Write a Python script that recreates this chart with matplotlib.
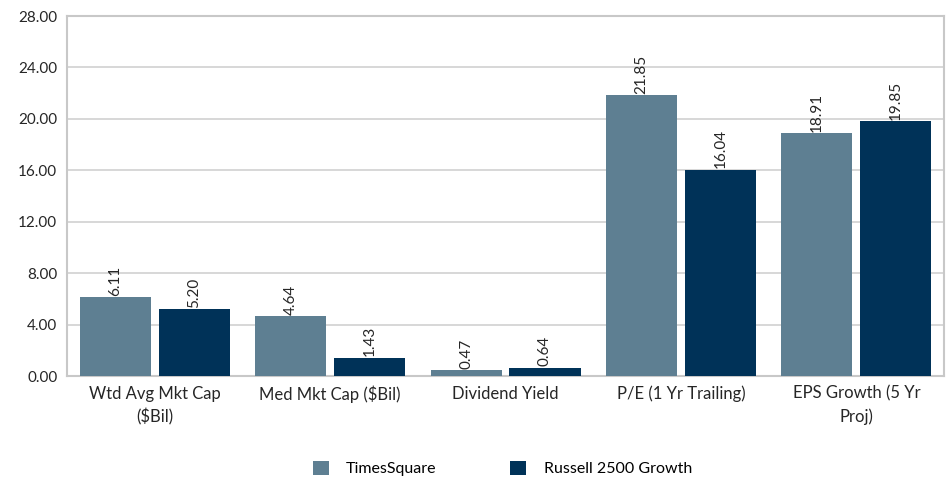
import matplotlib.pyplot as plt
import numpy as np

plt.rcParams['font.family'] = ['Lato', 'DejaVu Sans']

categories = ['Wtd Avg Mkt Cap\n($Bil)', 'Med Mkt Cap ($Bil)', 'Dividend Yield',
              'P/E (1 Yr Trailing)', 'EPS Growth (5 Yr\nProj)']
times_square = [6.11, 4.64, 0.47, 21.85, 18.91]
russell_2500 = [5.20, 1.43, 0.64, 16.04, 19.85]
series_names = ['TimesSquare', 'Russell 2500 Growth']
yticks = [0, 4, 8, 12, 16, 20, 24, 28]

c_ts = '#5E7F92'
c_rg = '#003258'
txt = '#262626'

fig = plt.figure(figsize=(9.53, 4.82), dpi=100)
ax = fig.add_axes([0.0703, 0.2199, 0.9203, 0.7469])

x = np.arange(len(categories))
w = 0.405
off = 0.225
b1 = ax.bar(x - off, times_square, w, color=c_ts, label=series_names[0], zorder=3)
b2 = ax.bar(x + off, russell_2500, w, color=c_rg, label=series_names[1], zorder=3)

for bars, vals in ((b1, times_square), (b2, russell_2500)):
    for b, v in zip(bars, vals):
        ax.text(b.get_x() + b.get_width() / 2, v + 0.1, f'{v:.2f}', rotation=90,
                ha='center', va='bottom', fontsize=11, color=txt, zorder=4)

ax.set_xlim(-0.5, len(categories) - 0.5)
ax.set_ylim(0, 28)
ax.set_yticks(yticks)
ax.set_yticklabels([f'{t:.2f}' for t in yticks], fontsize=11, color=txt)
ax.set_xticks(x)
ax.set_xticklabels(categories, fontsize=12, color=txt, linespacing=1.45)
ax.tick_params(length=0, pad=7)
ax.grid(axis='y', color='#D4D4D4', linewidth=1.3, zorder=0)
for s in ax.spines.values():
    s.set_color('#C8C8C8')
    s.set_linewidth(1.5)

fig.legend(loc='lower center', bbox_to_anchor=(0.527, -0.018), ncol=2, frameon=False,
           fontsize=11.5, handlelength=1.0, handleheight=1.0, columnspacing=4.6,
           handletextpad=1.1)

fig.savefig('out.png', dpi=100)
